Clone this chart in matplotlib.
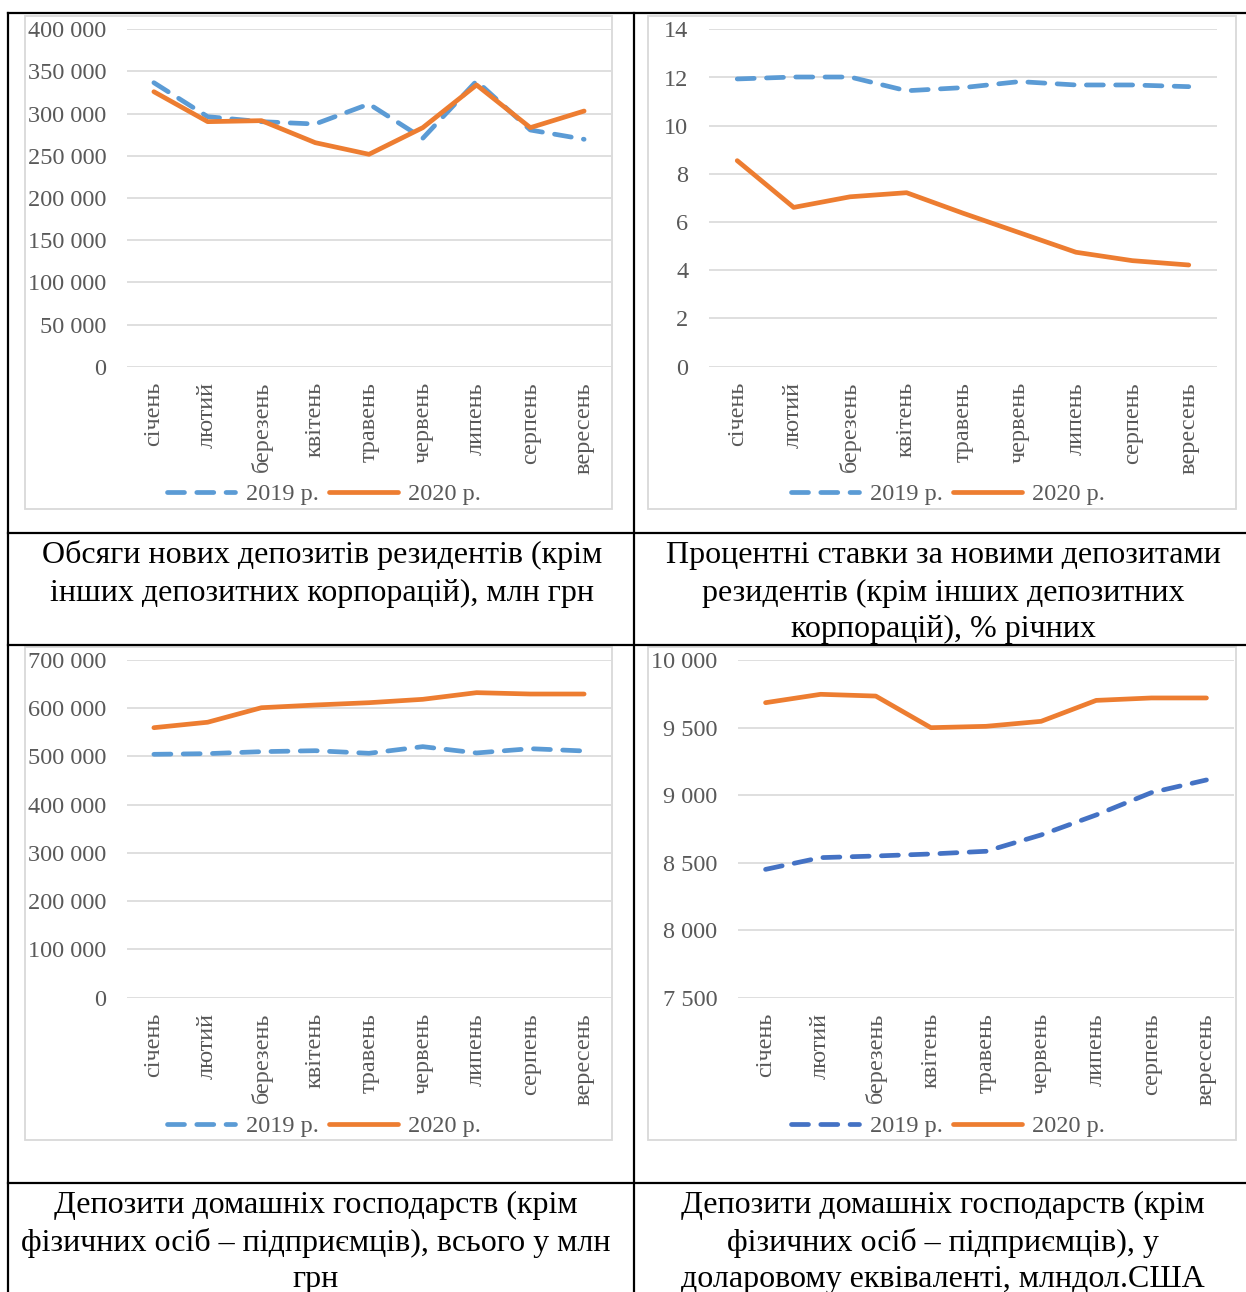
import matplotlib
matplotlib.use("Agg")
import matplotlib.pyplot as plt
from matplotlib.ticker import FuncFormatter, MultipleLocator
from matplotlib.patches import Rectangle
from matplotlib.lines import Line2D

plt.rcParams['font.family'] = ['Liberation Serif', 'DejaVu Serif']

# ---- data ----
months = ["січень", "лютий", "березень", "квітень", "травень",
          "червень", "липень", "серпень", "вересень"]
series_labels = ["2019 р.", "2020 р."]

new_deposits_2019 = [336700, 296400, 290500, 287700, 311400, 270800, 338700, 280600, 269600]
new_deposits_2020 = [326000, 290500, 291700, 265600, 251800, 283400, 334000, 283400, 303100]

rates_2019 = [11.94, 12.02, 12.02, 11.45, 11.58, 11.83, 11.69, 11.69, 11.62]
rates_2020 = [8.55, 6.61, 7.05, 7.22, 6.37, 5.56, 4.75, 4.40, 4.22]

household_uah_2019 = [504500, 505900, 510000, 512000, 506600, 520400, 507300, 516200, 511400]
household_uah_2020 = [559700, 571000, 601100, 606700, 611500, 618500, 632300, 629500, 629500]

household_usd_2019 = [8450, 8537, 8549, 8564, 8584, 8705, 8853, 9018, 9112]
household_usd_2020 = [9684, 9746, 9733, 9499, 9509, 9546, 9701, 9719, 9719]

caption_new_deposits = ["Обсяги нових депозитів резидентів (крім",
                        "інших депозитних корпорацій), млн грн"]
caption_rates = ["Процентні ставки за новими депозитами",
                 "резидентів (крім інших депозитних",
                 "корпорацій), % річних"]
caption_household_uah = ["Депозити домашніх господарств (крім",
                         "фізичних осіб – підприємців), всього у млн",
                         "грн"]
caption_household_usd = ["Депозити домашніх господарств (крім",
                         "фізичних осіб – підприємців), у",
                         "доларовому еквіваленті, млндол.США"]

# ---- layout helpers (pixel coordinates, origin top-left) ----
W, H = 1246, 1292
DPI = 100
fig = plt.figure(figsize=(W / DPI, H / DPI), dpi=DPI)
fig.patch.set_facecolor("white")


def fx(px):
    return px / W


def fy(py):
    return 1 - py / H


def box(x0, y0, x1, y1):
    return [fx(x0), fy(y1), (x1 - x0) / W, (y1 - y0) / H]


BLUE_LIGHT = "#5B9BD5"
BLUE_DARK = "#4472C4"
ORANGE = "#ED7D31"
GRID = "#D9D9D9"
TEXT = "#595959"


def fmt_thousands(v, _pos):
    return f"{int(round(v)):,}".replace(",", " ")


charts = [
    dict(s19=new_deposits_2019, s20=new_deposits_2020, ylim=(0, 400000), step=50000,
         ax=(127, 29.3, 611, 366.7), frame=(25, 16, 612, 509), leg=(324, 494),
         c19=BLUE_LIGHT),
    dict(s19=rates_2019, s20=rates_2020, ylim=(0, 14), step=2,
         ax=(709, 29.3, 1217, 366.7), frame=(648, 16, 1236, 509), leg=(948, 494),
         c19=BLUE_LIGHT),
    dict(s19=household_uah_2019, s20=household_uah_2020, ylim=(0, 700000), step=100000,
         ax=(127, 660, 611, 997.7), frame=(25, 647, 612, 1140), leg=(324, 1126),
         c19=BLUE_LIGHT),
    dict(s19=household_usd_2019, s20=household_usd_2020, ylim=(7500, 10000), step=500,
         ax=(738, 660, 1234, 997.7), frame=(648, 647, 1236, 1140), leg=(948, 1126),
         c19=BLUE_DARK),
]

LW = 3.4
FS = 17.5
x = list(range(len(months)))

for ch in charts:
    # light chart-area border
    fx0, fy0, fx1, fy1 = ch["frame"]
    fig.add_artist(Rectangle((fx(fx0), fy(fy1)), (fx1 - fx0) / W, (fy1 - fy0) / H,
                             transform=fig.transFigure, facecolor="white",
                             edgecolor=GRID, lw=1.3, zorder=0))

    ax = fig.add_axes(box(*ch["ax"]))
    ax.set_facecolor("none")
    l19, = ax.plot(x, ch["s19"], color=ch["c19"], lw=LW, linestyle=(0, (3.6, 2.6)),
                   dash_capstyle="round", solid_capstyle="round", zorder=3)
    l20, = ax.plot(x, ch["s20"], color=ORANGE, lw=LW, solid_capstyle="round",
                   solid_joinstyle="round", zorder=4)

    ax.set_xlim(-0.5, len(months) - 0.5)
    ax.set_ylim(*ch["ylim"])
    ax.yaxis.set_major_locator(MultipleLocator(ch["step"]))
    ax.yaxis.set_major_formatter(FuncFormatter(fmt_thousands))
    ax.set_xticks(x)
    ax.set_xticklabels(months, rotation=90, va="top", ha="center")
    ax.grid(axis="y", color=GRID, lw=1.2)
    ax.set_axisbelow(True)
    for sp in ax.spines.values():
        sp.set_visible(False)
    ax.tick_params(axis="y", length=0, pad=15, labelsize=FS, labelcolor=TEXT)
    ax.tick_params(axis="x", length=0, pad=11, labelsize=FS, labelcolor=TEXT)

    lx, ly = ch["leg"]
    ax.legend([l19, l20], series_labels, loc="center",
              bbox_to_anchor=(fx(lx), fy(ly)), bbox_transform=fig.transFigure,
              ncol=2, frameon=False, fontsize=FS, labelcolor=TEXT,
              handlelength=2.8, handletextpad=0.45, columnspacing=0.45,
              borderpad=0, borderaxespad=0)

# ---- table rules ----
TL = dict(color="black", lw=1.6, transform=fig.transFigure)
for yy in (13, 533, 645, 1183):
    fig.add_artist(Line2D([fx(8), fx(W)], [fy(yy), fy(yy)], **TL))
for xx in (8, 634):
    fig.add_artist(Line2D([fx(xx), fx(xx)], [fy(13), fy(H)], **TL))

# ---- captions ----
CAP = 23


def caption(lines, cx, baselines):
    for line, b in zip(lines, baselines):
        fig.text(fx(cx), fy(b), line, ha="center", va="baseline",
                 fontsize=CAP, color="black")


caption(caption_new_deposits, 322, (563.3, 600.7))
caption(caption_rates, 943, (563.3, 600.7, 636.7))
caption(caption_household_uah, 316, (1213.3, 1250.7, 1287))
caption(caption_household_usd, 943, (1213.3, 1250.7, 1287))

fig.savefig("out.png", dpi=DPI)
